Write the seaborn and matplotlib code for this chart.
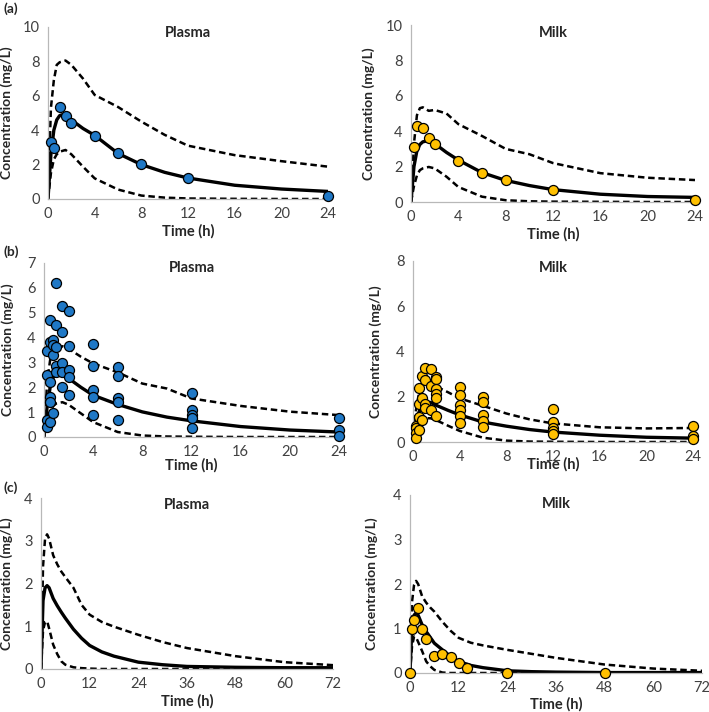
import numpy as np
import pandas as pd
import matplotlib
matplotlib.use("Agg")
import matplotlib.pyplot as plt
import seaborn as sns

# ---- model prediction grids ----
t24 = [0, 0.25, 0.5, 0.75, 1, 1.5, 2, 3, 4, 6, 8, 10, 12, 16, 20, 24]
t72 = [0, 0.5, 1, 1.5, 2, 3, 4, 5, 6, 8, 10, 12, 15, 18, 24, 30, 36, 48, 60, 72]

# (a) plasma
a_plasma_med = [0, 2.6, 4.0, 4.6, 4.85, 4.95, 4.6, 4.1, 3.7, 2.65, 2.0, 1.55, 1.22, 0.8, 0.58, 0.44]
a_plasma_hi = [0, 5.3, 6.9, 7.8, 7.95, 8.05, 7.8, 7.0, 6.05, 5.35, 4.5, 3.73, 3.1, 2.55, 2.2, 1.88]
a_plasma_lo = [0, 1.5, 2.3, 2.6, 2.75, 2.85, 2.6, 1.88, 1.2, 0.55, 0.2, 0.08, 0.03, 0.01, 0, 0]
a_plasma_obs_t = [0.25, 0.5, 1, 1.5, 2, 4, 6, 8, 12, 24]
a_plasma_obs_c = [3.34, 2.95, 5.33, 4.83, 4.4, 3.69, 2.66, 2.03, 1.24, 0.15]

# (a) milk
a_milk_med = [0, 2.0, 2.9, 3.25, 3.4, 3.47, 3.3, 2.8, 2.37, 1.66, 1.22, 0.93, 0.7, 0.44, 0.31, 0.26]
a_milk_hi = [0, 3.3, 4.9, 5.3, 5.35, 5.15, 5.2, 5.0, 4.4, 3.73, 3.0, 2.7, 2.2, 1.63, 1.37, 1.24]
a_milk_lo = [0, 0.9, 1.5, 1.8, 1.9, 1.98, 1.9, 1.43, 0.85, 0.3, 0.1, 0.04, 0.02, 0.01, 0, 0]
a_milk_obs_t = [0.25, 0.5, 1, 1.5, 2, 4, 6, 8, 12, 24]
a_milk_obs_c = [3.09, 4.31, 4.2, 3.6, 3.28, 2.34, 1.64, 1.24, 0.7, 0.11]

# (b) plasma
b_plasma_med = [0, 1.2, 2.0, 2.4, 2.55, 2.55, 2.36, 2.0, 1.68, 1.31, 1.01, 0.8, 0.65, 0.42, 0.28, 0.2]
b_plasma_hi = [0, 2.2, 3.1, 3.45, 3.6, 3.65, 3.55, 3.23, 2.96, 2.6, 2.15, 1.95, 1.55, 1.25, 1.02, 0.88]
b_plasma_lo = [0, 0.6, 1.0, 1.25, 1.35, 1.4, 1.3, 0.95, 0.6, 0.2, 0.06, 0.02, 0.01, 0, 0, 0]
b_plasma_obs_t = ([0.25] * 4 + [0.5] * 6 + [0.75] * 4 + [1] * 5 + [1.5] * 5 + [2] * 5
                  + [4] * 5 + [6] * 5 + [12] * 5 + [24] * 3)
b_plasma_obs_c = [3.46, 2.5, 0.7, 0.4,
                  4.71, 3.84, 2.22, 1.59, 1.4, 0.6,
                  3.9, 3.7, 3.3, 0.98,
                  6.19, 4.52, 3.63, 2.87, 2.62,
                  5.27, 4.23, 2.98, 2.6, 2.0,
                  5.06, 3.65, 2.7, 2.42, 1.7,
                  3.75, 2.85, 1.88, 1.62, 0.87,
                  2.83, 2.46, 1.57, 1.41, 0.7,
                  1.78, 1.1, 0.9, 0.77, 0.35,
                  0.75, 0.27, 0.03]

# (b) milk
b_milk_med = [0, 0.8, 1.3, 1.6, 1.72, 1.75, 1.62, 1.4, 1.2, 0.88, 0.7, 0.55, 0.44, 0.3, 0.21, 0.17]
b_milk_hi = [0, 1.4, 2.1, 2.4, 2.5, 2.55, 2.45, 2.2, 1.93, 1.6, 1.26, 1.0, 0.82, 0.65, 0.6, 0.62]
b_milk_lo = [0, 0.5, 0.85, 1.0, 1.05, 1.05, 0.96, 0.72, 0.49, 0.19, 0.06, 0.02, 0.01, 0, 0, 0]
b_milk_obs_t = ([0.25] * 4 + [0.5] * 4 + [0.75] * 3 + [1] * 4 + [1.5] * 3 + [2] * 6
                + [4] * 6 + [6] * 5 + [12] * 5 + [24] * 3)
b_milk_obs_c = [0.7, 0.6, 0.38, 0.16,
                2.37, 1.7, 1.1, 0.53,
                2.93, 1.95, 0.97,
                3.25, 2.74, 1.66, 1.49,
                3.22, 2.48, 1.43,
                2.88, 2.78, 2.34, 2.1, 1.95, 1.13,
                2.43, 2.08, 1.63, 1.43, 1.13, 0.83,
                1.98, 1.76, 1.18, 0.95, 0.66,
                1.46, 0.9, 0.63, 0.49, 0.35,
                0.71, 0.26, 0.15]

# (c) plasma
c_plasma_med = [0, 1.6, 1.9, 1.95, 1.9, 1.65, 1.48, 1.33, 1.19, 0.93, 0.72, 0.55, 0.4, 0.3,
                0.16, 0.1, 0.06, 0.04, 0.03, 0.03]
c_plasma_hi = [0, 2.4, 3.05, 3.15, 3.05, 2.66, 2.45, 2.28, 2.15, 1.9, 1.5, 1.27, 1.1, 0.99,
               0.8, 0.63, 0.49, 0.3, 0.16, 0.09]
c_plasma_lo = [0, 0.9, 1.1, 1.12, 0.95, 0.57, 0.35, 0.18, 0.1, 0.04, 0.02, 0.01, 0, 0,
               0, 0, 0, 0, 0, 0]

# (c) milk
c_milk_med = [0, 1.1, 1.3, 1.35, 1.3, 1.08, 0.93, 0.8, 0.67, 0.52, 0.37, 0.26, 0.17, 0.12,
              0.05, 0.03, 0.02, 0.01, 0.01, 0.01]
c_milk_hi = [0, 1.6, 1.98, 2.07, 2.0, 1.72, 1.58, 1.47, 1.38, 1.15, 0.95, 0.79, 0.68, 0.62,
             0.52, 0.43, 0.34, 0.19, 0.1, 0.05]
c_milk_lo = [0, 0.6, 0.82, 0.8, 0.7, 0.49, 0.26, 0.15, 0.07, 0.01, 0, 0, 0, 0,
             0, 0, 0, 0, 0, 0]
c_milk_obs_t = [0, 0.5, 1, 2, 3, 4, 6, 8, 10, 12, 14, 24, 48]
c_milk_obs_c = [0, 0.99, 1.18, 1.47, 0.99, 0.77, 0.39, 0.43, 0.35, 0.22, 0.11, 0, 0]

BLUE = "#1f78c6"
GOLD = "#ffc000"
AXIS_GREY = "#b8b8b8"

sns.set_style("white")
plt.rcParams["font.family"] = ["Lato", "DejaVu Sans"]

fig = plt.figure(figsize=(7.09, 7.12), dpi=100)
W, H = 709.0, 712.0


def rect(x0, x1, y0, y1):
    return [x0 / W, 1 - y1 / H, (x1 - x0) / W, (y1 - y0) / H]


def draw_panel(box, t, med, hi, lo, obs_t, obs_c, color, title, xmax, xstep,
               ymax, ystep, title_y, xlabelpad, ylabel_px):
    ax = fig.add_axes(rect(*box))
    dash = (0, (2.6, 1.5))
    sns.lineplot(x=t, y=hi, ax=ax, color="black", lw=1.8, linestyle=dash,
                 estimator=None, sort=False)
    sns.lineplot(x=t, y=lo, ax=ax, color="black", lw=1.8, linestyle=dash,
                 estimator=None, sort=False)
    sns.lineplot(x=t, y=med, ax=ax, color="black", lw=2.4,
                 estimator=None, sort=False)
    if obs_t is not None:
        sns.scatterplot(x=obs_t, y=obs_c, ax=ax, s=52, color=color,
                        edgecolor="black", linewidth=0.9, clip_on=False, zorder=5)
    ax.set_xlim(0, xmax)
    ax.set_ylim(0, ymax)
    ax.set_xticks(np.arange(0, xmax + 0.1, xstep))
    ax.set_yticks(np.arange(0, ymax + 0.1, ystep))
    for s in ["top", "right"]:
        ax.spines[s].set_visible(False)
    for s in ["left", "bottom"]:
        ax.spines[s].set_color(AXIS_GREY)
        ax.spines[s].set_linewidth(0.9)
    ax.tick_params(direction="out", length=3, width=0.8, color=AXIS_GREY,
                   labelcolor="#404040", labelsize=10.5, pad=3)
    ax.set_xlabel("Time (h)", fontsize=10.5, fontweight="bold", labelpad=xlabelpad)
    ax.set_ylabel("Concentration (mg/L)", fontsize=10, fontweight="bold")
    # y label centred at a given pixel column
    ax.yaxis.set_label_coords((ylabel_px - box[0]) / (box[1] - box[0]), 0.5)
    ax.text(0.5, title_y, title, transform=ax.transAxes, ha="center", va="center",
            fontsize=10.5, fontweight="bold")
    ax.grid(False)
    return ax


draw_panel((48, 328, 27, 199), t24, a_plasma_med, a_plasma_hi, a_plasma_lo,
           a_plasma_obs_t, a_plasma_obs_c, BLUE, "Plasma", 24, 4, 10, 2, 0.965, 2, 13)
draw_panel((411, 695, 25, 202), t24, a_milk_med, a_milk_hi, a_milk_lo,
           a_milk_obs_t, a_milk_obs_c, GOLD, "Milk", 24, 4, 10, 2, 0.955, 2, 375)
draw_panel((44, 339, 263, 437), t24, b_plasma_med, b_plasma_hi, b_plasma_lo,
           b_plasma_obs_t, b_plasma_obs_c, BLUE, "Plasma", 24, 4, 7, 1, 0.97, -1, 14)
draw_panel((413, 693, 261, 442), t24, b_milk_med, b_milk_hi, b_milk_lo,
           b_milk_obs_t, b_milk_obs_c, GOLD, "Milk", 24, 4, 8, 2, 0.96, -5, 382)
draw_panel((41, 333, 498, 669), t72, c_plasma_med, c_plasma_hi, c_plasma_lo,
           None, None, BLUE, "Plasma", 72, 12, 4, 1, 0.96, 2, 13)
draw_panel((410, 702, 495, 673), t72, c_milk_med, c_milk_hi, c_milk_lo,
           c_milk_obs_t, c_milk_obs_c, GOLD, "Milk", 72, 12, 4, 1, 0.95, 1, 378)

for lab, ypix in [("(a)", 9), ("(b)", 252), ("(c)", 488)]:
    fig.text(3 / W, 1 - ypix / H, lab, ha="left", va="center", fontsize=10,
             fontweight="bold")

fig.savefig("out.png", dpi=100)
plt.close(fig)
